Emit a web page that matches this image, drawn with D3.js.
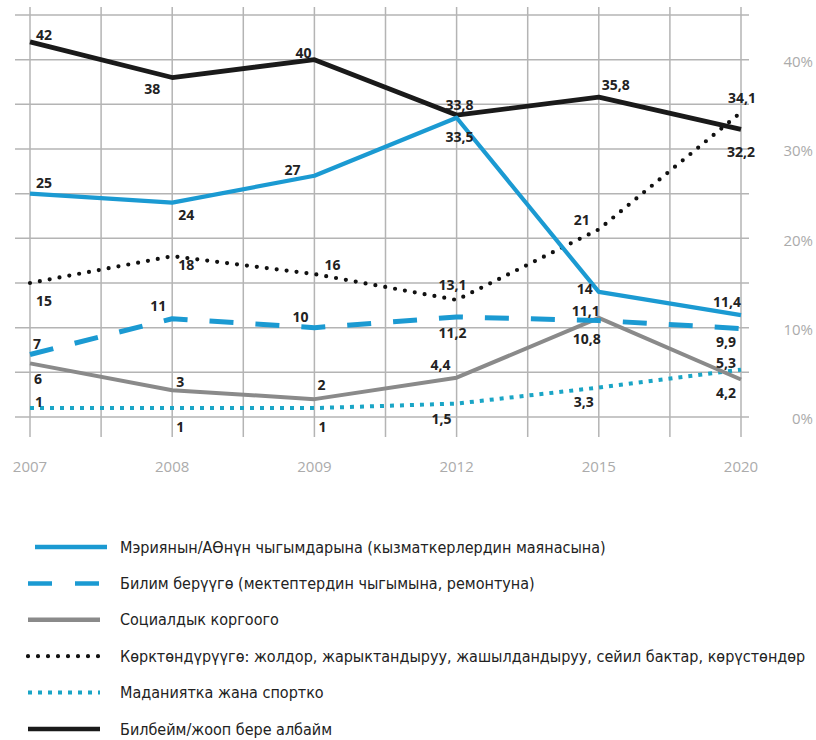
<!DOCTYPE html>
<html lang="ky">
<head>
  <meta charset="UTF-8" />
  <title>Бюджет чыгымдары</title>
  <script src="https://d3js.org/d3.v7.min.js"></script>
  <style>
    body {
      margin: 0;
      background: white;
    }

    .grid line {
      stroke: #b4b4b4;
      stroke-width: 1.5;
    }

    .tick-label {
      font-family: "Open Sans", sans-serif;
      font-size: 15px;
      fill: #ababab;
    }

    .value {
      font-family: "Open Sans", sans-serif;
      font-weight: 700;
      font-size: 14px;
      fill: #222;
    }

    .legend text {
      font-family: "Liberation Sans Narrow", "DejaVu Sans Condensed", sans-serif;
      font-size: 16px;
      fill: #222;
    }
  </style>
</head>
<body>
  <svg width="816" height="740"></svg>

  <script>
    // data
    const years = ["2007", "2008", "2009", "2012", "2015", "2020"];
    const percentTicks = [0, 10, 20, 30, 40];

    const salaries = [25, 24, 27, 33.5, 14, 11.4];
    const education = [7, 11, 10, 11.2, 10.8, 9.9];
    const social = [6, 3, 2, 4.4, 11.1, 4.2];
    const improvement = [15, 18, 16, 13.1, 21, 34.1];
    const culture = [1, 1, 1, 1.5, 3.3, 5.3];
    const dontKnow = [42, 38, 40, 33.8, 35.8, 32.2];

    const names = [
      "Мэриянын/АӨнүн чыгымдарына (кызматкерлердин маянасына)",
      "Билим берүүгө (мектептердин чыгымына, ремонтуна)",
      "Социалдык коргоого",
      "Көрктөндүрүүгө: жолдор, жарыктандыруу, жашылдандыруу, сейил бактар, көрүстөндөр",
      "Маданиятка жана спортко",
      "Билбейм/жооп бере албайм"
    ];

    // label offsets from each point (layout only)
    const labelShift = [
      [[14, -11], [14, 12], [-22, -6], [3, 19], [-14, -3], [-14, -13]],
      [[7, -11], [-14, -13], [-14, -11], [-4, 16], [-12, 18], [-15, 13]],
      [[8, 16], [8, -8], [7, -14], [-16, -13], [-13, -7], [-15, 13]],
      [[14, 18], [14, 9], [18, -9], [-4, -15], [-17, -9], [1, -14]],
      [[9, -6], [8, 19], [8, 19], [-15, 15], [-15, 14], [-15, -7]],
      [[14, -7], [-20, 11], [-11, -7], [3, -10], [17, -12], [0, 23]]
    ];

    const styles = [
      { color: "#1b9ad2", width: 4.2, dash: null, cap: "butt" },
      { color: "#1b9ad2", width: 5, dash: "24 22", cap: "butt", legendDash: "24 23" },
      { color: "#8a8a8a", width: 4, dash: null, cap: "butt" },
      { color: "#111", width: 4.2, dash: "0 10", cap: "round" },
      { color: "#1aa5c6", width: 4, dash: "4 6", cap: "butt" },
      { color: "#1a1a1a", width: 4.8, dash: null, cap: "butt" }
    ];

    const series = [salaries, education, social, improvement, culture, dontKnow];

    const svg = d3.select("svg");

    const x = d3.scalePoint().domain(years).range([30, 741]);
    const y = d3.scaleLinear().domain([0, 45]).range([417, 15]);

    // grid
    const grid = svg.append("g").attr("class", "grid");
    const half = x.step() / 2;
    grid.selectAll(".v")
      .data(d3.range(0, years.length * 2 - 1))
      .enter().append("line")
      .attr("class", "v")
      .attr("x1", i => x.range()[0] + i * half)
      .attr("x2", i => x.range()[0] + i * half)
      .attr("y1", 7)
      .attr("y2", 437);
    grid.selectAll(".h")
      .data(d3.range(0, 46, 5))
      .enter().append("line")
      .attr("class", "h")
      .attr("x1", 15)
      .attr("x2", 749)
      .attr("y1", d => y(d))
      .attr("y2", d => y(d));

    // axes labels
    svg.append("g").selectAll("text")
      .data(years)
      .enter().append("text")
      .attr("class", "tick-label")
      .attr("x", d => x(d))
      .attr("y", 467)
      .attr("dy", "0.35em")
      .attr("text-anchor", "middle")
      .text(d => d);

    svg.append("g").selectAll("text")
      .data(percentTicks)
      .enter().append("text")
      .attr("class", "tick-label")
      .attr("x", 813)
      .attr("y", d => y(d) + 2)
      .attr("dy", "0.35em")
      .attr("text-anchor", "end")
      .text(d => d + "%");

    // lines
    const line = d3.line()
      .x((d, i) => x(years[i]))
      .y(d => y(d));

    const drawOrder = [4, 2, 1, 3, 5, 0];
    drawOrder.forEach(k => {
      const s = styles[k];
      svg.append("path")
        .datum(series[k])
        .attr("d", line)
        .attr("fill", "none")
        .attr("stroke", s.color)
        .attr("stroke-width", s.width)
        .attr("stroke-linecap", s.cap)
        .attr("stroke-linejoin", "round")
        .attr("stroke-dasharray", s.dash);
    });

    // value labels
    const fmt = v => String(v).replace(".", ",");
    series.forEach((vals, k) => {
      svg.append("g").selectAll("text")
        .data(vals)
        .enter().append("text")
        .attr("class", "value")
        .attr("x", (d, i) => x(years[i]) + labelShift[k][i][0])
        .attr("y", (d, i) => y(d) + labelShift[k][i][1])
        .attr("dy", "0.36em")
        .attr("text-anchor", "middle")
        .text(fmt);
    });

    // legend
    const ly = d3.scalePoint().domain(names).range([547, 729]);
    const legend = svg.append("g").attr("class", "legend");
    names.forEach((name, k) => {
      const s = styles[k];
      legend.append("line")
        .attr("x1", k === 0 ? 35 : 28)
        .attr("x2", k === 0 ? 107 : 100)
        .attr("y1", ly(name))
        .attr("y2", ly(name))
        .attr("stroke", s.color)
        .attr("stroke-width", k === 3 || k === 4 ? s.width : 4.5)
        .attr("stroke-linecap", s.cap)
        .attr("stroke-dasharray", s.legendDash || s.dash);
      legend.append("text")
        .attr("x", 120)
        .attr("y", ly(name))
        .attr("dy", "0.35em")
        .text(name);
    });
  </script>
</body>
</html>
